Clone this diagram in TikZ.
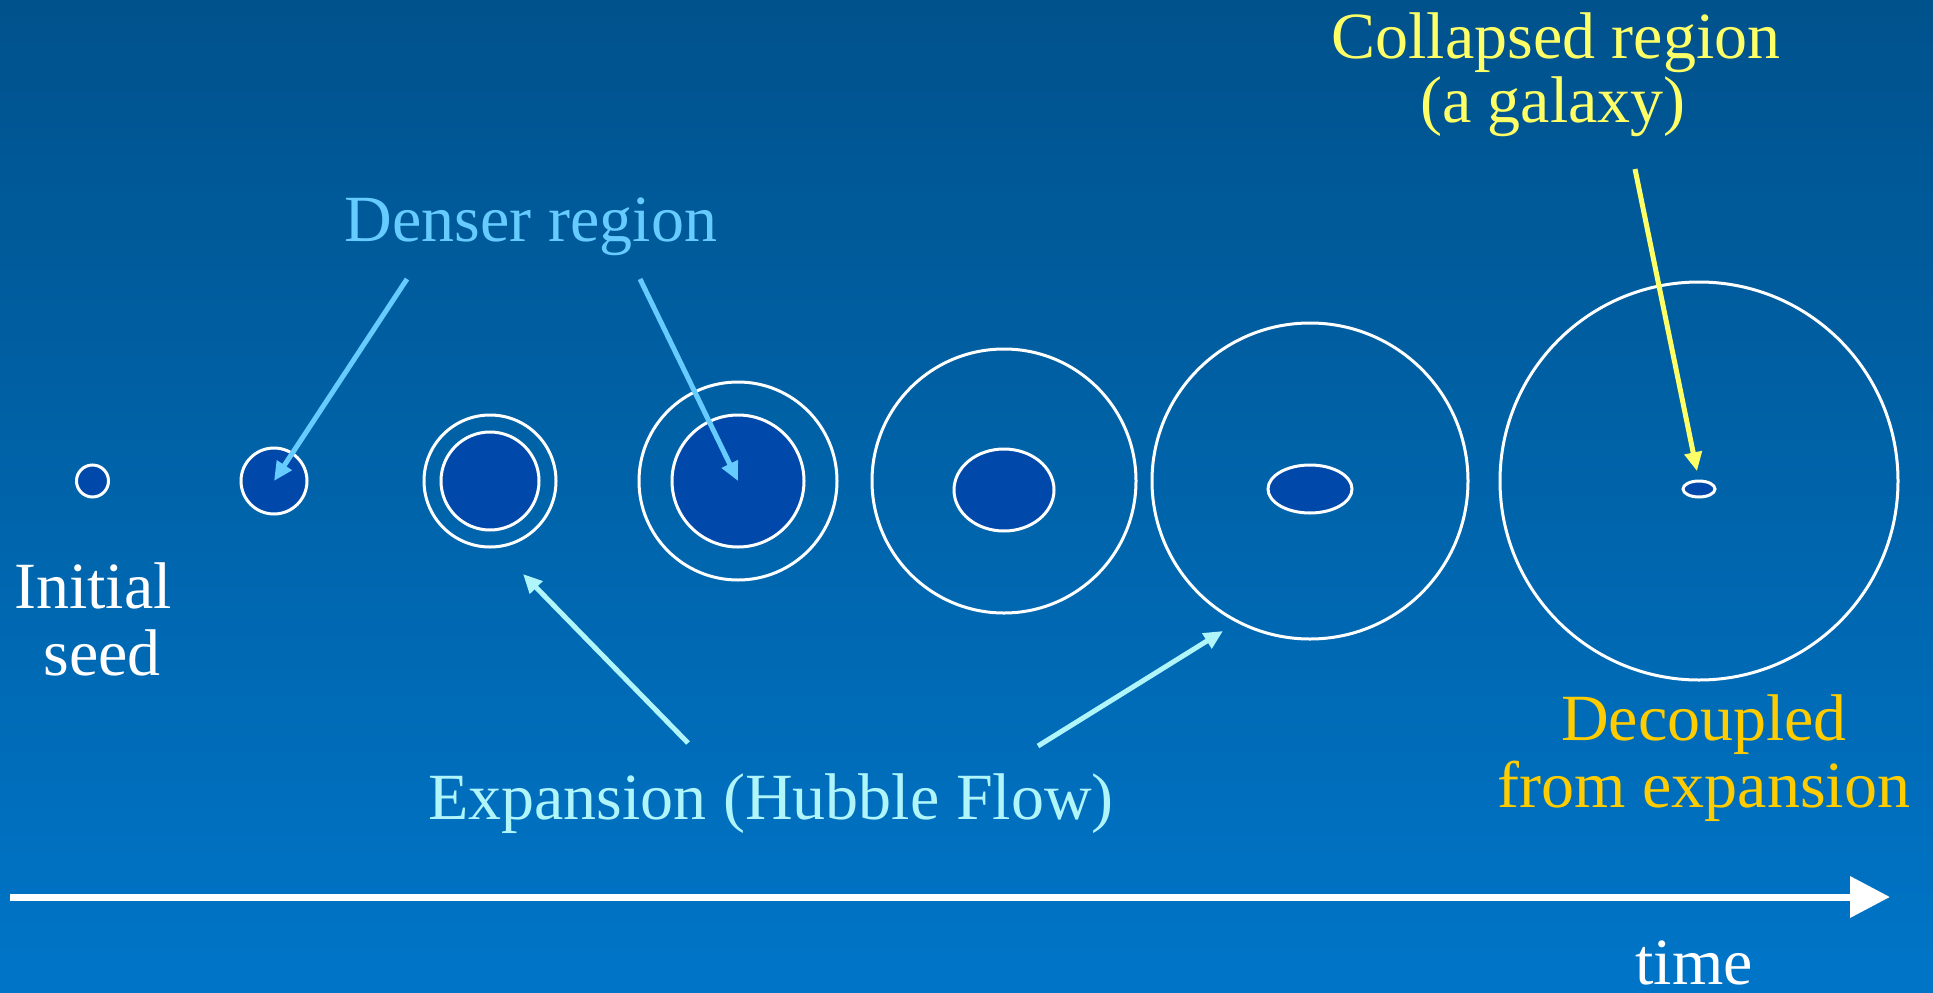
\documentclass[tikz,border=0pt]{standalone}
\usepackage{fontspec}
\setmainfont{Liberation Serif}
\newfontfamily\tnr{Liberation Serif}
\usetikzlibrary{arrows.meta,shapes.geometric}
\definecolor{bgtop}{RGB}{0,82,140}
\definecolor{bgbot}{RGB}{0,117,200}
\definecolor{dense}{RGB}{0,72,170}
\definecolor{denserc}{RGB}{102,204,255}
\definecolor{expc}{RGB}{175,245,250}
\definecolor{galc}{RGB}{255,255,102}
\definecolor{decc}{RGB}{255,204,0}
\tikzset{
  ring/.style={circle,draw=white,line width=3bp,inner sep=0pt,outer sep=0pt,minimum size=#1},
  core/.style={circle,draw=white,fill=dense,line width=3bp,inner sep=0pt,outer sep=0pt,minimum size=#1},
  ecore/.style 2 args={ellipse,draw=white,fill=dense,line width=3bp,inner sep=0pt,outer sep=0pt,minimum width=#1,minimum height=#2},
  lbl/.style={font=\tnr\fontsize{66bp}{70bp}\selectfont,inner sep=0pt,anchor=base},
  ptr/.style={line width=5bp,-{Triangle[length=19bp,width=17bp]}},
  timearrow/.style={line width=7bp,white,-{Triangle[length=40bp,width=40bp]}}
}
\begin{document}
\begin{tikzpicture}[x=1bp,y=-1bp]
\useasboundingbox (0,0) rectangle (1933,992);
\shade[top color=bgtop,bottom color=bgbot] (0,0) rectangle (1933,992);

% stages
\node[core=32bp] (c1) at (92.5,481) {};
\node[core=66bp] (c2) at (274,481) {};
\node[ring=132bp] (c3) at (490,481) {};
\node[core=98bp] (c3in) at (490,481) {};
\node[ring=198bp] (c4) at (738,481) {};
\node[core=132bp] (c4in) at (738,481) {};
\node[ring=264bp] (c5) at (1004,481) {};
\node[ecore={100bp}{82bp}] (c5in) at (1004,490) {};
\node[ring=316bp] (c6) at (1310,481) {};
\node[ecore={84bp}{48bp}] (c6in) at (1310,489) {};
\node[ring=398bp] (c7) at (1699,481) {};
\node[ecore={32bp}{16bp}] (c7in) at (1699,489) {};

% labels
\node[lbl,white] (init1) at (93,608) {Initial};
\node[lbl,white] (init2) at (102,675) {seed};
\node[lbl,denserc] (denser) at (531,241) {Denser region};
\node[lbl,galc] (coll1) at (1556,58) {Collapsed region};
\node[lbl,galc] (coll2) at (1553,122) {(a galaxy)};
\node[lbl,expc] (expan) at (771,819) {Expansion (Hubble Flow)};
\node[lbl,decc] (dec1) at (1704,740) {Decoupled};
\node[lbl,decc] (dec2) at (1704,807) {from expansion};
\node[lbl,white] (time) at (1694,984) {time};

% connector ends
\coordinate (d1s) at (407,279);
\coordinate (d2s) at (640,279);
\coordinate (e1s) at (688,743);
\coordinate (e1t) at (523,574);
\coordinate (e2s) at (1038,746);
\coordinate (e2t) at (1223,631);
\coordinate (gs) at (1635,169);
\coordinate (ts) at (10,897);
\coordinate (te) at (1890,897);

\draw[ptr,denserc] (d1s) -- (c2.center);
\draw[ptr,denserc] (d2s) -- (c4in.center);
\draw[ptr,expc] (e1s) -- (e1t);
\draw[ptr,expc] (e2s) -- (e2t);
\draw[ptr,galc,shorten >=10bp] (gs) -- (c7in.north);
\draw[timearrow] (ts) -- (te);
\end{tikzpicture}
\end{document}
